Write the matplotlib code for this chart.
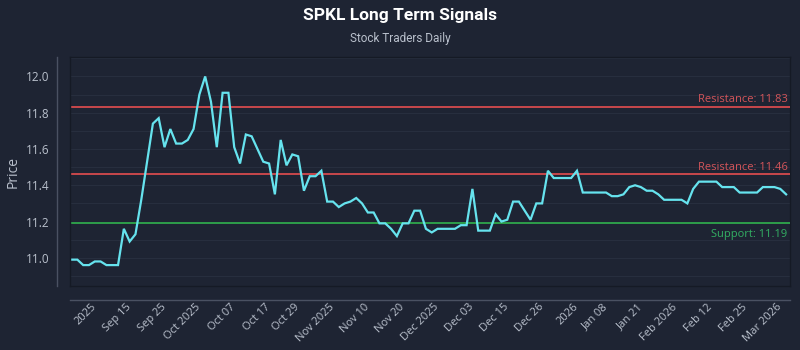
#!/usr/bin/env python3
"""SPKL long term signals: daily closes with support / resistance levels."""

import numpy as np
import matplotlib
matplotlib.use("Agg")
import matplotlib.pyplot as plt
from matplotlib.ticker import MultipleLocator

# daily closing prices (one value per trading session)
PRICES = [
    10.99, 10.99, 10.96, 10.96, 10.98, 10.98, 10.96, 10.96, 10.96, 11.16,
    11.09, 11.13, 11.32, 11.53, 11.74, 11.77, 11.61, 11.71, 11.63, 11.63,
    11.65, 11.71, 11.90, 12.00, 11.86, 11.61, 11.91, 11.91, 11.61, 11.52,
    11.68, 11.67, 11.60, 11.53, 11.52, 11.35, 11.65, 11.51, 11.57, 11.56,
    11.37, 11.45, 11.45, 11.48, 11.31, 11.31, 11.28, 11.30, 11.31, 11.33,
    11.30, 11.25, 11.25, 11.19, 11.19, 11.16, 11.12, 11.19, 11.19, 11.26,
    11.26, 11.16, 11.14, 11.16, 11.16, 11.16, 11.16, 11.18, 11.18, 11.38,
    11.15, 11.15, 11.15, 11.24, 11.20, 11.21, 11.31, 11.31, 11.26, 11.21,
    11.30, 11.30, 11.48, 11.44, 11.44, 11.44, 11.44, 11.48, 11.36, 11.36,
    11.36, 11.36, 11.36, 11.34, 11.34, 11.35, 11.39, 11.40, 11.39, 11.37,
    11.37, 11.35, 11.32, 11.32, 11.32, 11.32, 11.30, 11.38, 11.42, 11.42,
    11.42, 11.42, 11.39, 11.39, 11.39, 11.36, 11.36, 11.36, 11.36, 11.39,
    11.39, 11.39, 11.38, 11.35,
]

TICK_LABELS = [
    "2025", "Sep 15", "Sep 25", "Oct 2025", "Oct 07", "Oct 17", "Oct 29",
    "Nov 2025", "Nov 10", "Nov 20", "Dec 2025", "Dec 03", "Dec 15", "Dec 26",
    "2026", "Jan 08", "Jan 21", "Feb 2026", "Feb 12", "Feb 25", "Mar 2026",
]

RESISTANCE = [11.83, 11.46]
SUPPORT = [11.19]

BG = "#1e2433"
TEXT = "#b9c0cc"
LINE = "#66e3ee"
RED = "#c8474b"
RED_TEXT = "#d4555a"
GREEN = "#2e9e4a"
GREEN_TEXT = "#33b063"

FONT = ["Open Sans", "DejaVu Sans"]
TITLE_FONT = ["Roboto", "DejaVu Sans"]

plt.rcParams["font.family"] = FONT

fig = plt.figure(figsize=(8, 3.5), dpi=100, facecolor=BG)
ax = fig.add_axes([0.088, 0.183, 0.899, 0.653], facecolor=BG)

# inner frame in a dark tone, offset spines for the axes themselves
# (set_position resets the ticks, so this comes before any tick styling)
for side in ("top", "right"):
    ax.spines[side].set_color("#151a25")
    ax.spines[side].set_linewidth(1.0)
for side in ("left", "bottom"):
    ax.spines[side].set_color("#4a5162")
    ax.spines[side].set_linewidth(1.0)
    ax.spines[side].set_position(("outward", 10))

x = np.arange(len(PRICES))
ax.plot(x, PRICES, color=LINE, lw=1.6, solid_joinstyle="miter", zorder=4)

for level in RESISTANCE:
    ax.axhline(level, color=RED, lw=1.4, zorder=3)
    ax.text(0.997, level + 0.01, f"Resistance: {level:.2f}", transform=ax.get_yaxis_transform(),
            ha="right", va="bottom", color=RED_TEXT, fontsize=8)
for level in SUPPORT:
    ax.axhline(level, color=GREEN, lw=1.4, zorder=3)
    ax.text(0.997, level - 0.03, f"Support: {level:.2f}", transform=ax.get_yaxis_transform(),
            ha="right", va="top", color=GREEN_TEXT, fontsize=8)

ax.set_xlim(-0.2, len(PRICES) - 0.4)
ax.set_ylim(10.845, 12.105)

ax.yaxis.set_major_locator(MultipleLocator(0.2))
ax.yaxis.set_minor_locator(MultipleLocator(0.1))
ax.grid(True, which="both", axis="y", color="#272e3e", lw=0.8, zorder=0)

ax.tick_params(axis="both", which="both", length=0, colors=TEXT, labelsize=8.5)
ax.tick_params(axis="y", pad=5)
ax.tick_params(axis="x", pad=4, labelsize=8)

ticks = np.round(np.linspace(4, len(PRICES) - 2, len(TICK_LABELS)))
ax.set_xticks(ticks)
ax.set_xticklabels(TICK_LABELS, rotation=45, ha="right", va="center",
                   rotation_mode="anchor")

ax.set_ylabel("Price", color=TEXT, fontsize=10, labelpad=4)

# dark lines along the bottom and left edges of the plotting area
ax.plot([0, 1], [0, 0], transform=ax.transAxes, color="#151a25", lw=1.0, clip_on=False, zorder=5)
ax.plot([0, 0], [0, 1], transform=ax.transAxes, color="#151a25", lw=1.0, clip_on=False, zorder=5)

fig.text(0.5, 0.955, "SPKL Long Term Signals", ha="center", va="center",
         color="white", fontsize=12.5, fontweight="bold", family=TITLE_FONT)
fig.text(0.5, 0.89, "Stock Traders Daily", ha="center", va="center",
         color=TEXT, fontsize=8.5, family=TITLE_FONT)

fig.savefig("out.png", dpi=100, facecolor=BG)
